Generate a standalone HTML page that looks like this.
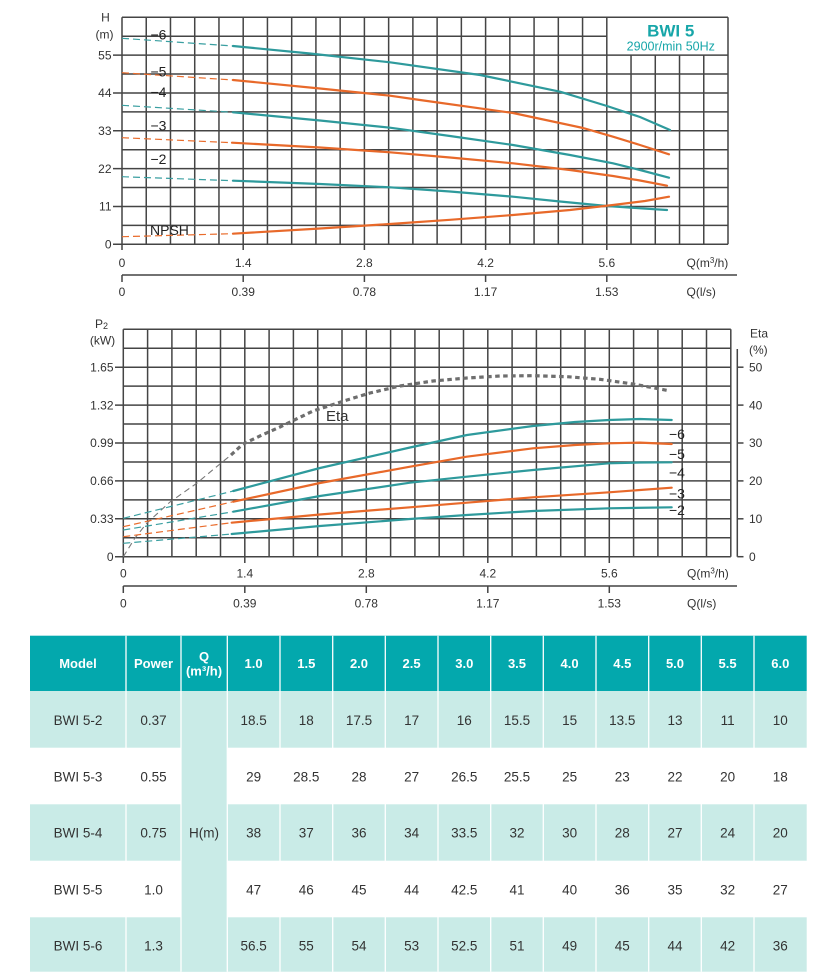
<!DOCTYPE html>
<html><head><meta charset="utf-8"><style>
html,body{margin:0;padding:0;background:#fff;}
svg{display:block;}
text{font-family:"Liberation Sans",sans-serif;}
</style></head><body>
<svg width="840" height="980" viewBox="0 0 840 980" xmlns="http://www.w3.org/2000/svg">
<rect width="840" height="980" fill="#fff"/>

<!-- ================= TOP CHART ================= -->
<g stroke="#444" stroke-width="1.5" fill="none">
  <!-- verticals -->
  <line x1="122" y1="17.3" x2="122" y2="250"/>
  <line x1="146.24" y1="17.3" x2="146.24" y2="244.3"/>
  <line x1="170.48" y1="17.3" x2="170.48" y2="244.3"/>
  <line x1="194.72" y1="17.3" x2="194.72" y2="244.3"/>
  <line x1="218.96" y1="17.3" x2="218.96" y2="244.3"/>
  <line x1="243.2" y1="17.3" x2="243.2" y2="250"/>
  <line x1="267.44" y1="17.3" x2="267.44" y2="244.3"/>
  <line x1="291.68" y1="17.3" x2="291.68" y2="244.3"/>
  <line x1="315.92" y1="17.3" x2="315.92" y2="244.3"/>
  <line x1="340.16" y1="17.3" x2="340.16" y2="244.3"/>
  <line x1="364.4" y1="17.3" x2="364.4" y2="250"/>
  <line x1="388.64" y1="17.3" x2="388.64" y2="244.3"/>
  <line x1="412.88" y1="17.3" x2="412.88" y2="244.3"/>
  <line x1="437.12" y1="17.3" x2="437.12" y2="244.3"/>
  <line x1="461.36" y1="17.3" x2="461.36" y2="244.3"/>
  <line x1="485.6" y1="17.3" x2="485.6" y2="250"/>
  <line x1="509.84" y1="17.3" x2="509.84" y2="244.3"/>
  <line x1="534.08" y1="17.3" x2="534.08" y2="244.3"/>
  <line x1="558.32" y1="17.3" x2="558.32" y2="244.3"/>
  <line x1="582.56" y1="17.3" x2="582.56" y2="244.3"/>
  <line x1="606.8" y1="17.3" x2="606.8" y2="250"/>
  <line x1="631.04" y1="55.13" x2="631.04" y2="244.3"/>
  <line x1="655.28" y1="55.13" x2="655.28" y2="244.3"/>
  <line x1="679.52" y1="55.13" x2="679.52" y2="244.3"/>
  <line x1="703.76" y1="55.13" x2="703.76" y2="244.3"/>
  <line x1="728" y1="17.3" x2="728" y2="244.3"/>
  <!-- horizontals -->
  <line x1="122" y1="17.3" x2="728" y2="17.3"/>
  <line x1="122" y1="36.22" x2="606.8" y2="36.22"/>
  <line x1="113" y1="55.13" x2="728" y2="55.13"/>
  <line x1="122" y1="74.05" x2="728" y2="74.05"/>
  <line x1="113" y1="92.97" x2="728" y2="92.97"/>
  <line x1="122" y1="111.88" x2="728" y2="111.88"/>
  <line x1="113" y1="130.8" x2="728" y2="130.8"/>
  <line x1="122" y1="149.72" x2="728" y2="149.72"/>
  <line x1="113" y1="168.63" x2="728" y2="168.63"/>
  <line x1="122" y1="187.55" x2="728" y2="187.55"/>
  <line x1="113" y1="206.47" x2="728" y2="206.47"/>
  <line x1="122" y1="225.38" x2="728" y2="225.38"/>
  <line x1="113" y1="244.3" x2="728" y2="244.3"/>
  <!-- second axis -->
  <line x1="122" y1="275" x2="737" y2="275"/>
  <line x1="122" y1="275" x2="122" y2="282"/>
  <line x1="243.2" y1="275" x2="243.2" y2="282"/>
  <line x1="364.4" y1="275" x2="364.4" y2="282"/>
  <line x1="485.6" y1="275" x2="485.6" y2="282"/>
  <line x1="606.8" y1="275" x2="606.8" y2="282"/>
</g>

<!-- Title box -->
<text x="670.7" y="36.5" font-size="17" font-weight="bold" fill="#17a6a9" text-anchor="middle">BWI 5</text>
<text x="670.8" y="50.7" font-size="12.5" fill="#17a6a9" text-anchor="middle">2900r/min 50Hz</text>

<!-- Top axis labels -->
<g font-size="12" fill="#333">
  <text x="105.5" y="21.5" text-anchor="middle">H</text>
  <text x="104.5" y="38.5" text-anchor="middle">(m)</text>
  <text x="111.5" y="59.3" text-anchor="end">55</text>
  <text x="111.5" y="97.1" text-anchor="end">44</text>
  <text x="111.5" y="135" text-anchor="end">33</text>
  <text x="111.5" y="172.8" text-anchor="end">22</text>
  <text x="111.5" y="210.6" text-anchor="end">11</text>
  <text x="111.5" y="248.5" text-anchor="end">0</text>
  <text x="122" y="267" text-anchor="middle">0</text>
  <text x="243.2" y="267" text-anchor="middle">1.4</text>
  <text x="364.4" y="267" text-anchor="middle">2.8</text>
  <text x="485.6" y="267" text-anchor="middle">4.2</text>
  <text x="606.8" y="267" text-anchor="middle">5.6</text>
  <text x="686.5" y="267">Q(m<tspan font-size="8" dy="-4">3</tspan><tspan dy="4">/h)</tspan></text>
  <text x="122" y="296" text-anchor="middle">0</text>
  <text x="243.2" y="296" text-anchor="middle">0.39</text>
  <text x="364.4" y="296" text-anchor="middle">0.78</text>
  <text x="485.6" y="296" text-anchor="middle">1.17</text>
  <text x="606.8" y="296" text-anchor="middle">1.53</text>
  <text x="686.5" y="296">Q(l/s)</text>
</g>

<!-- Top curves dashed -->
<g fill="none" stroke-width="1.2" stroke-dasharray="7,4">
  <path d="M122,38.3 L233,46" stroke="#3a9fa1"/>
  <path d="M122,72.7 L233,80" stroke="#e96c2c"/>
  <path d="M122,105.3 L233,112.3" stroke="#3a9fa1"/>
  <path d="M122,137.7 L232,142.7" stroke="#e96c2c"/>
  <path d="M122,176.7 L233,180.7" stroke="#3a9fa1"/>
  <path d="M122,236.7 L233,233.7" stroke="#e96c2c"/>
</g>
<!-- Top curves solid -->
<g fill="none" stroke-width="2.2" stroke-linejoin="round" stroke-linecap="round">
  <path d="M233,46 L310,53.5 L390,62.3 L480,75 L560,91.7 L607,106 L640,117 L670,130" stroke="#2e9a9c"/>
  <path d="M233,80 L320,88.5 L390,95.7 L420,100 L513,113 L583,128 L613,136.7 L640,145 L669,154.3" stroke="#e8692a"/>
  <path d="M233,112.3 L320,120.5 L390,127.7 L450,136 L513,145 L570,155 L613,163.3 L640,170 L669,177.7" stroke="#2e9a9c"/>
  <path d="M232,142.7 L320,147.5 L390,152.3 L450,157.5 L513,163.3 L570,170 L613,176 L640,180.5 L667,185.7" stroke="#e8692a"/>
  <path d="M233,180.7 L320,184 L390,187.3 L450,191.5 L513,196.7 L560,201.5 L607,206 L640,208.3 L667,210" stroke="#2e9a9c"/>
  <path d="M233,233.7 L320,228.5 L390,224 L450,219.8 L513,215 L570,210 L613,205 L645,201 L669,196.7" stroke="#e8692a"/>
</g>
<g font-size="14" fill="#222">
  <text x="150.5" y="39.3">−6</text>
  <text x="150.5" y="76.7">−5</text>
  <text x="150.5" y="97">−4</text>
  <text x="150.5" y="130.7">−3</text>
  <text x="150.5" y="164">−2</text>
  <text x="150" y="235">NPSH</text>
</g>

<!-- ================= BOTTOM CHART ================= -->
<g stroke="#444" stroke-width="1.5" fill="none">
  <line x1="123.3" y1="329.3" x2="123.3" y2="563"/>
  <line x1="147.6" y1="329.3" x2="147.6" y2="556.7"/>
  <line x1="171.9" y1="329.3" x2="171.9" y2="556.7"/>
  <line x1="196.2" y1="329.3" x2="196.2" y2="556.7"/>
  <line x1="220.5" y1="329.3" x2="220.5" y2="556.7"/>
  <line x1="244.8" y1="329.3" x2="244.8" y2="563"/>
  <line x1="269.1" y1="329.3" x2="269.1" y2="556.7"/>
  <line x1="293.4" y1="329.3" x2="293.4" y2="556.7"/>
  <line x1="317.7" y1="329.3" x2="317.7" y2="556.7"/>
  <line x1="342" y1="329.3" x2="342" y2="556.7"/>
  <line x1="366.3" y1="329.3" x2="366.3" y2="563"/>
  <line x1="390.6" y1="329.3" x2="390.6" y2="556.7"/>
  <line x1="414.9" y1="329.3" x2="414.9" y2="556.7"/>
  <line x1="439.2" y1="329.3" x2="439.2" y2="556.7"/>
  <line x1="463.5" y1="329.3" x2="463.5" y2="556.7"/>
  <line x1="487.8" y1="329.3" x2="487.8" y2="563"/>
  <line x1="512.1" y1="329.3" x2="512.1" y2="556.7"/>
  <line x1="536.4" y1="329.3" x2="536.4" y2="556.7"/>
  <line x1="560.7" y1="329.3" x2="560.7" y2="556.7"/>
  <line x1="585" y1="329.3" x2="585" y2="556.7"/>
  <line x1="609.3" y1="329.3" x2="609.3" y2="563"/>
  <line x1="633.6" y1="329.3" x2="633.6" y2="556.7"/>
  <line x1="657.9" y1="329.3" x2="657.9" y2="556.7"/>
  <line x1="682.2" y1="329.3" x2="682.2" y2="556.7"/>
  <line x1="706.5" y1="329.3" x2="706.5" y2="556.7"/>
  <line x1="730.8" y1="329.3" x2="730.8" y2="556.7"/>
  <line x1="123.3" y1="329.3" x2="730.8" y2="329.3"/>
  <line x1="123.3" y1="348.25" x2="730.8" y2="348.25"/>
  <line x1="115" y1="367.2" x2="730.8" y2="367.2"/>
  <line x1="123.3" y1="386.15" x2="730.8" y2="386.15"/>
  <line x1="115" y1="405.1" x2="730.8" y2="405.1"/>
  <line x1="123.3" y1="424.05" x2="730.8" y2="424.05"/>
  <line x1="115" y1="443" x2="730.8" y2="443"/>
  <line x1="123.3" y1="461.95" x2="730.8" y2="461.95"/>
  <line x1="115" y1="480.9" x2="730.8" y2="480.9"/>
  <line x1="123.3" y1="499.85" x2="730.8" y2="499.85"/>
  <line x1="115" y1="518.8" x2="730.8" y2="518.8"/>
  <line x1="123.3" y1="537.75" x2="730.8" y2="537.75"/>
  <line x1="115" y1="556.7" x2="730.8" y2="556.7"/>
  <!-- eta axis -->
  <line x1="737.3" y1="349" x2="737.3" y2="556.7"/>
  <line x1="737.3" y1="367.2" x2="743.5" y2="367.2"/>
  <line x1="737.3" y1="405.1" x2="743.5" y2="405.1"/>
  <line x1="737.3" y1="443" x2="743.5" y2="443"/>
  <line x1="737.3" y1="480.9" x2="743.5" y2="480.9"/>
  <line x1="737.3" y1="518.8" x2="743.5" y2="518.8"/>
  <line x1="737.3" y1="556.7" x2="743.5" y2="556.7"/>
  <!-- second axis -->
  <line x1="123.3" y1="586" x2="737" y2="586"/>
  <line x1="123.3" y1="586" x2="123.3" y2="593"/>
  <line x1="244.8" y1="586" x2="244.8" y2="593"/>
  <line x1="366.3" y1="586" x2="366.3" y2="593"/>
  <line x1="487.8" y1="586" x2="487.8" y2="593"/>
  <line x1="609.3" y1="586" x2="609.3" y2="593"/>
</g>

<g font-size="12" fill="#333">
  <text x="101.5" y="328" text-anchor="middle">P<tspan font-size="9" dy="1">2</tspan></text>
  <text x="102.5" y="344.5" text-anchor="middle">(kW)</text>
  <text x="113.5" y="371.4" text-anchor="end">1.65</text>
  <text x="113.5" y="409.3" text-anchor="end">1.32</text>
  <text x="113.5" y="447.2" text-anchor="end">0.99</text>
  <text x="113.5" y="485.1" text-anchor="end">0.66</text>
  <text x="113.5" y="523" text-anchor="end">0.33</text>
  <text x="113.5" y="560.9" text-anchor="end">0</text>
  <text x="750" y="337.5">Eta</text>
  <text x="749" y="354">(%)</text>
  <text x="749" y="371.4">50</text>
  <text x="749" y="409.3">40</text>
  <text x="749" y="447.2">30</text>
  <text x="749" y="485.1">20</text>
  <text x="749" y="523">10</text>
  <text x="749" y="560.9">0</text>
  <text x="123.3" y="577.5" text-anchor="middle">0</text>
  <text x="244.8" y="577.5" text-anchor="middle">1.4</text>
  <text x="366.3" y="577.5" text-anchor="middle">2.8</text>
  <text x="487.8" y="577.5" text-anchor="middle">4.2</text>
  <text x="609.3" y="577.5" text-anchor="middle">5.6</text>
  <text x="687" y="577.5">Q(m<tspan font-size="8" dy="-4">3</tspan><tspan dy="4">/h)</tspan></text>
  <text x="123.3" y="607.5" text-anchor="middle">0</text>
  <text x="244.8" y="607.5" text-anchor="middle">0.39</text>
  <text x="366.3" y="607.5" text-anchor="middle">0.78</text>
  <text x="487.8" y="607.5" text-anchor="middle">1.17</text>
  <text x="609.3" y="607.5" text-anchor="middle">1.53</text>
  <text x="687" y="607.5">Q(l/s)</text>
</g>

<!-- Eta curve -->
<path d="M123.3,556.7 L135,538 L146.7,523.3 L170,502 L196.7,483.3 L215,468 L231,455" fill="none" stroke="#777" stroke-width="1.1" stroke-dasharray="6,4"/>
<path d="M231,455 L243,444 L262,435 L280,427 L313,411 L347,400 L370,393 L400,386 L433,381 L467,378 L500,376 L533,375.7 L567,376.7 L600,379.3 L633,384 L669,390.7" fill="none" stroke="#6e6e6e" stroke-width="3.2" stroke-dasharray="4.5,3.5"/>
<text x="326" y="421" font-size="15" fill="#333">Eta</text>

<!-- Power curves dashed -->
<g fill="none" stroke-width="1.2" stroke-dasharray="7,4">
  <path d="M123.3,518.3 L233.3,491" stroke="#3a9fa1"/>
  <path d="M123.3,526.7 L233.3,501.7" stroke="#e96c2c"/>
  <path d="M123.3,530 L233.3,511.7" stroke="#3a9fa1"/>
  <path d="M123.3,536.7 L231.7,522.7" stroke="#e96c2c"/>
  <path d="M123.3,543.3 L231.7,534" stroke="#3a9fa1"/>
</g>
<g fill="none" stroke-width="2.2" stroke-linejoin="round" stroke-linecap="round">
  <path d="M233.3,491 L320,468 L410,447.5 L467,435 L533,426 L575,422 L609,420 L640,419 L671.7,420" stroke="#2e9a9c"/>
  <path d="M233.3,501.7 L320,483 L410,466.7 L466.7,456.7 L533,448.3 L575,445 L609,443.3 L640,442.6 L671.7,444" stroke="#e8692a"/>
  <path d="M233.3,511.7 L320,496 L410,482.7 L466.7,476.7 L533,470 L609,463.3 L640,462.5 L671.7,462.3" stroke="#2e9a9c"/>
  <path d="M231.7,522.7 L320,514.5 L410,507.3 L466.7,502.7 L533,497.3 L609,492.3 L671.7,487.7" stroke="#e8692a"/>
  <path d="M231.7,534 L320,526 L410,519 L466.7,515 L533,511 L609,508.3 L671.7,507.3" stroke="#2e9a9c"/>
</g>
<g font-size="14" fill="#222">
  <text x="669" y="439">−6</text>
  <text x="669" y="459">−5</text>
  <text x="669" y="477.7">−4</text>
  <text x="669" y="498.3">−3</text>
  <text x="669" y="515">−2</text>
</g>

<!-- ================= TABLE ================= -->
<g>
  <!-- header -->
  <rect x="30" y="635.7" width="776.7" height="55.3" fill="#03a8ad"/>
  <!-- light rows -->
  <rect x="30" y="691" width="776.7" height="56.7" fill="#c9ebe7"/>
  <rect x="30" y="804.3" width="776.7" height="56.4" fill="#c9ebe7"/>
  <rect x="30" y="917.3" width="776.7" height="54.4" fill="#c9ebe7"/>
  <!-- H column merged -->
  <rect x="181" y="691" width="46.3" height="280.7" fill="#c9ebe7"/>
  <!-- separators -->
  <g stroke="#fff" stroke-width="1.3">
    <line x1="126" y1="635.7" x2="126" y2="971.7"/>
    <line x1="181" y1="635.7" x2="181" y2="971.7"/>
    <line x1="227.3" y1="635.7" x2="227.3" y2="971.7"/>
    <line x1="280" y1="635.7" x2="280" y2="971.7"/>
    <line x1="332.7" y1="635.7" x2="332.7" y2="971.7"/>
    <line x1="385.3" y1="635.7" x2="385.3" y2="971.7"/>
    <line x1="438" y1="635.7" x2="438" y2="971.7"/>
    <line x1="490.7" y1="635.7" x2="490.7" y2="971.7"/>
    <line x1="543.3" y1="635.7" x2="543.3" y2="971.7"/>
    <line x1="596" y1="635.7" x2="596" y2="971.7"/>
    <line x1="648.7" y1="635.7" x2="648.7" y2="971.7"/>
    <line x1="701.3" y1="635.7" x2="701.3" y2="971.7"/>
    <line x1="754" y1="635.7" x2="754" y2="971.7"/>
  </g>
  <g font-size="13" font-weight="bold" fill="#fff" text-anchor="middle">
    <text x="78" y="668">Model</text>
    <text x="153.5" y="668">Power</text>
    <text x="204" y="661">Q</text>
    <text x="204" y="675.5">(m³/h)</text>
    <text x="253.6" y="668">1.0</text>
    <text x="306.3" y="668">1.5</text>
    <text x="359" y="668">2.0</text>
    <text x="411.6" y="668">2.5</text>
    <text x="464.3" y="668">3.0</text>
    <text x="517" y="668">3.5</text>
    <text x="569.6" y="668">4.0</text>
    <text x="622.3" y="668">4.5</text>
    <text x="675" y="668">5.0</text>
    <text x="727.6" y="668">5.5</text>
    <text x="780.3" y="668">6.0</text>
  </g>
  <g font-size="13.5" fill="#333" text-anchor="middle">
    <text x="78" y="724.8">BWI 5-2</text><text x="153.5" y="724.8">0.37</text>
    <text x="253.6" y="724.8">18.5</text><text x="306.3" y="724.8">18</text><text x="359" y="724.8">17.5</text><text x="411.6" y="724.8">17</text><text x="464.3" y="724.8">16</text><text x="517" y="724.8">15.5</text><text x="569.6" y="724.8">15</text><text x="622.3" y="724.8">13.5</text><text x="675" y="724.8">13</text><text x="727.6" y="724.8">11</text><text x="780.3" y="724.8">10</text>

    <text x="78" y="781.3">BWI 5-3</text><text x="153.5" y="781.3">0.55</text>
    <text x="253.6" y="781.3">29</text><text x="306.3" y="781.3">28.5</text><text x="359" y="781.3">28</text><text x="411.6" y="781.3">27</text><text x="464.3" y="781.3">26.5</text><text x="517" y="781.3">25.5</text><text x="569.6" y="781.3">25</text><text x="622.3" y="781.3">23</text><text x="675" y="781.3">22</text><text x="727.6" y="781.3">20</text><text x="780.3" y="781.3">18</text>

    <text x="78" y="837.5">BWI 5-4</text><text x="153.5" y="837.5">0.75</text><text x="204" y="837.5">H(m)</text>
    <text x="253.6" y="837.5">38</text><text x="306.3" y="837.5">37</text><text x="359" y="837.5">36</text><text x="411.6" y="837.5">34</text><text x="464.3" y="837.5">33.5</text><text x="517" y="837.5">32</text><text x="569.6" y="837.5">30</text><text x="622.3" y="837.5">28</text><text x="675" y="837.5">27</text><text x="727.6" y="837.5">24</text><text x="780.3" y="837.5">20</text>

    <text x="78" y="894.5">BWI 5-5</text><text x="153.5" y="894.5">1.0</text>
    <text x="253.6" y="894.5">47</text><text x="306.3" y="894.5">46</text><text x="359" y="894.5">45</text><text x="411.6" y="894.5">44</text><text x="464.3" y="894.5">42.5</text><text x="517" y="894.5">41</text><text x="569.6" y="894.5">40</text><text x="622.3" y="894.5">36</text><text x="675" y="894.5">35</text><text x="727.6" y="894.5">32</text><text x="780.3" y="894.5">27</text>

    <text x="78" y="950.5">BWI 5-6</text><text x="153.5" y="950.5">1.3</text>
    <text x="253.6" y="950.5">56.5</text><text x="306.3" y="950.5">55</text><text x="359" y="950.5">54</text><text x="411.6" y="950.5">53</text><text x="464.3" y="950.5">52.5</text><text x="517" y="950.5">51</text><text x="569.6" y="950.5">49</text><text x="622.3" y="950.5">45</text><text x="675" y="950.5">44</text><text x="727.6" y="950.5">42</text><text x="780.3" y="950.5">36</text>
  </g>
</g>
</svg>
</body></html>
